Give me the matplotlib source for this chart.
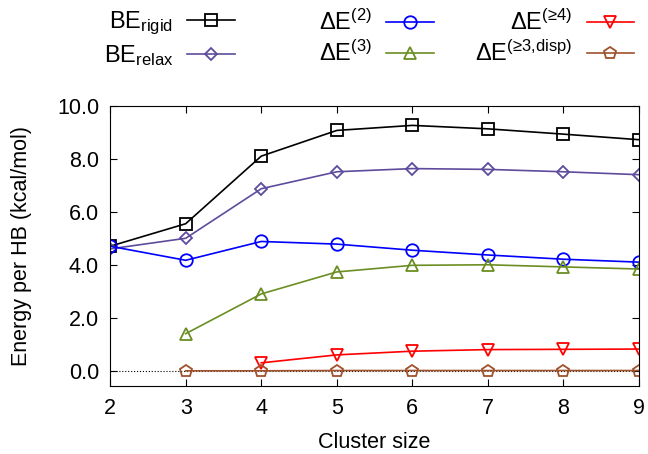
import matplotlib.pyplot as plt

plt.rcParams['font.family'] = ['Liberation Sans', 'DejaVu Sans']
plt.rcParams['mathtext.fontset'] = 'custom'
plt.rcParams['mathtext.rm'] = 'Liberation Sans'
plt.rcParams['mathtext.it'] = 'Liberation Sans:italic'
plt.rcParams['mathtext.bf'] = 'Liberation Sans:bold'

# Данные.
sizes = [2, 3, 4, 5, 6, 7, 8, 9]
be_rigid = [4.70, 5.55, 8.10, 9.07, 9.26, 9.13, 8.93, 8.72]
be_relax = [4.60, 5.00, 6.87, 7.51, 7.63, 7.60, 7.51, 7.40]
de2 = [4.70, 4.17, 4.88, 4.78, 4.55, 4.37, 4.21, 4.10]
sizes3 = [3, 4, 5, 6, 7, 8, 9]
de3 = [1.40, 2.90, 3.73, 3.98, 4.00, 3.92, 3.84]
sizes4 = [4, 5, 6, 7, 8, 9]
de4 = [0.30, 0.60, 0.74, 0.80, 0.81, 0.82]
de_disp = [0.0, 0.0, 0.01, 0.01, 0.01, 0.01, 0.01]

fig = plt.figure(figsize=(6.48, 4.54), dpi=100)
ax = fig.add_axes([0.170, 0.150, 0.816, 0.617])

ax.axhline(0, color='black', linestyle=':', linewidth=0.8, zorder=0)

kw = dict(linewidth=1.2, markerfacecolor='none', markeredgewidth=1.3)
l1, = ax.plot(sizes, be_rigid, color='black', marker='s', markersize=9,
              label=r'BE$_{\mathrm{rigid}}$', **kw)
l2, = ax.plot(sizes, be_relax, color='#5e4b9c', marker='D', markersize=6.5,
              label=r'BE$_{\mathrm{relax}}$', **kw)
l3, = ax.plot(sizes, de2, color='#0000ff', marker='o', markersize=9,
              label=r'$\Delta$E$^{(2)}$', **kw)
l4, = ax.plot(sizes3, de3, color='#6b8e23', marker='^', markersize=9,
              label=r'$\Delta$E$^{(3)}$', **kw)
l5, = ax.plot(sizes4, de4, color='#ff0000', marker='v', markersize=9,
              label='$\\Delta$E$^{(\u22654)}$', **kw)
l6, = ax.plot(sizes3, de_disp, color='#a0522d', marker='p', markersize=9,
              label='$\\Delta$E$^{(\u22653{,}\\mathrm{disp})}$', **kw)

ax.set_xlim(2, 9)
ax.set_ylim(-0.57, 10)
ax.set_xticks(sizes)
ax.set_yticks([0, 2, 4, 6, 8, 10])
ax.set_yticklabels(['%.1f' % v for v in [0, 2, 4, 6, 8, 10]])
ax.tick_params(direction='in', top=True, right=True, length=5, width=0.8,
               labelsize=15.5, pad=9)
ax.tick_params(axis='y', pad=8)
ax.set_xlabel('Cluster size', fontsize=15.5, labelpad=9)
ax.set_ylabel('Energy per HB (kcal/mol)', fontsize=15.5, labelpad=18)

# Легенда в три колонки над графиком, текст выровнен вправо.
groups = [([l1, l2], 0.362), ([l3, l4], 0.669), ([l5, l6], 0.978)]
for handles, xr in groups:
    leg = fig.legend(handles=handles, loc='upper right', bbox_to_anchor=(xr, 0.978),
                     frameon=False, markerfirst=False, fontsize=17,
                     handlelength=2.0, handletextpad=0.6, labelspacing=0.25,
                     borderpad=0, borderaxespad=0)
    for col in leg._legend_handle_box.get_children():
        col.align = 'right'

fig.savefig('out.png', dpi=100)
